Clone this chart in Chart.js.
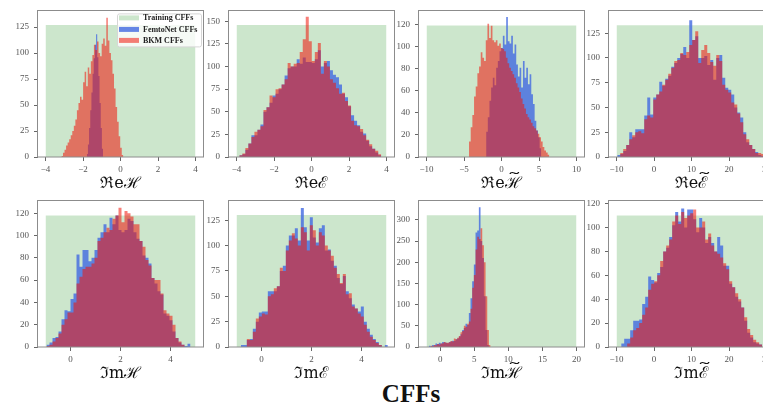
<!DOCTYPE html>
<html>
<head>
<meta charset="utf-8">
<script src="https://cdn.jsdelivr.net/npm/chart.js@4.4.0/dist/chart.umd.min.js"></script>
<style>
html, body { margin: 0; padding: 0; background: #fff; }
#wrap { position: relative; width: 763px; height: 407px; overflow: hidden; background: #fff; }
#wrap canvas { position: absolute; }
#title { position: absolute; left: 0; width: 822px; top: 380px; line-height: 30px; text-align: center;
         font: bold 25px "Liberation Serif", serif; color: #111; }
</style>
</head>
<body>
<div id="wrap">
  <div id="title">CFFs</div>
</div>
<script>
const PANEL_LABELS = ['ℜeℋ', 'ℜeℰ', 'ℜeℋ̃', 'ℜeℰ̃', 'ℑmℋ', 'ℑmℰ', 'ℑmℋ̃', 'ℑmℰ̃'];
const LEGEND_LABELS = ['Training CFFs', 'FemtoNet CFFs', 'BKM CFFs'];

// histogram counts, one array per panel and model
const reH_femto = [3, 12, 28, 45, 62, 80, 95, 108, 118, 96, 78, 52, 28, 8];
const reH_bkm = [1, 4, 7, 11, 14, 17, 21, 25, 30, 36, 45, 52, 58, 55, 72, 82, 68, 86, 80, 92,
    98, 108, 103, 111, 100, 97, 109, 114, 107, 134, 112, 100, 93, 80, 66, 48, 34, 20, 9, 2];
const reE_femto = [2, 3, 8, 15, 24, 24, 30, 36, 50, 55, 60, 68, 70, 75, 80, 90, 98, 100, 100, 108,
    103, 110, 105, 105, 104, 108, 118, 100, 104, 106, 96, 91, 88, 80, 70, 66, 56, 46, 40, 35,
    28, 26, 18, 12, 9, 5, 2];
const reE_bkm = [2, 4, 10, 15, 22, 28, 30, 34, 52, 55, 68, 66, 75, 76, 80, 86, 104, 100, 103, 104,
    116, 130, 155, 128, 106, 116, 126, 92, 106, 100, 86, 82, 76, 70, 71, 62, 57, 40, 35, 34,
    31, 24, 19, 14, 9, 7, 3];
const reHt_femto = [23, 36, 51, 63, 72, 65, 81, 87, 96, 99, 110, 102, 127, 105, 103, 110, 94, 102, 84, 73,
    81, 63, 87, 72, 81, 66, 75, 57, 48, 33, 24, 18, 8];
const reHt_bkm = [14, 27, 38, 55, 64, 76, 82, 95, 90, 87, 106, 121, 108, 119, 106, 104, 106, 101, 103, 99,
    98, 96, 90, 85, 81, 78, 75, 72, 67, 63, 59, 53, 48, 44, 39, 36, 34, 31, 28, 26,
    24, 21, 18, 14, 9, 6, 4, 2];
const reEt_femto = [2, 3, 6, 12, 25, 20, 28, 28, 28, 42, 60, 43, 60, 63, 76, 72, 79, 82, 91, 95,
    100, 104, 111, 100, 138, 118, 122, 100, 100, 102, 93, 98, 78, 100, 103, 80, 70, 68, 63, 50,
    45, 40, 25, 15, 12, 8, 5, 2, 1];
const reEt_bkm = [0, 4, 8, 12, 18, 22, 25, 26, 24, 38, 42, 40, 58, 63, 66, 73, 78, 84, 90, 97,
    98, 105, 103, 106, 113, 118, 127, 95, 108, 113, 105, 96, 92, 103, 97, 73, 68, 65, 55, 53,
    44, 35, 23, 18, 12, 8, 4, 4, 3];
const imH_femto = [2, 4, 8, 9, 14, 25, 33, 32, 43, 48, 83, 72, 87, 87, 77, 80, 87, 98, 103, 110,
    103, 116, 110, 118, 105, 103, 105, 115, 113, 103, 97, 95, 82, 80, 75, 62, 57, 50, 47, 30,
    28, 24, 14, 8, 4, 2, 1, 3];
const imH_bkm = [1, 2, 5, 8, 12, 20, 25, 31, 31, 40, 57, 63, 70, 72, 72, 75, 80, 95, 98, 103,
    107, 105, 115, 118, 125, 112, 122, 120, 117, 110, 110, 95, 90, 78, 73, 62, 60, 60, 48, 33,
    30, 28, 20, 8, 5, 2, 0, 0];
const imE_femto = [2, 2, 7, 8, 18, 25, 34, 35, 35, 55, 55, 55, 60, 75, 80, 100, 110, 110, 117, 105,
    137, 118, 105, 128, 108, 103, 117, 120, 95, 96, 85, 80, 68, 62, 70, 55, 48, 42, 38, 35,
    40, 25, 18, 12, 8, 5, 2, 0, 2];
const imE_bkm = [0, 0, 8, 7, 15, 28, 30, 33, 32, 50, 52, 58, 60, 78, 75, 95, 105, 112, 107, 100,
    118, 113, 95, 120, 115, 100, 113, 110, 100, 95, 90, 78, 72, 63, 72, 52, 53, 40, 38, 33,
    30, 22, 15, 10, 7, 4, 2, 0, 0];
const imHt_femto = [3, 2, 5, 4, 8, 7, 10, 8, 12, 11, 10, 9, 12, 13, 15, 14, 18, 20, 25, 30,
    40, 45, 55, 52, 80, 115, 155, 195, 270, 275, 330, 250, 210, 120, 40, 5];
const imHt_bkm = [3, 2, 5, 4, 7, 6, 8, 9, 12, 10, 10, 11, 14, 13, 20, 18, 22, 26, 35, 38,
    50, 48, 55, 60, 90, 140, 170, 230, 260, 255, 280, 240, 200, 120, 40, 5];
const imEt_femto = [3, 7, 7, 14, 22, 22, 23, 36, 42, 59, 56, 54, 62, 67, 80, 83, 92, 102, 113, 105,
    116, 100, 115, 115, 107, 96, 108, 100, 87, 92, 87, 80, 92, 85, 68, 68, 53, 50, 42, 38,
    33, 22, 12, 8, 4, 3, 2];
const imEt_bkm = [0, 0, 3, 8, 14, 16, 20, 27, 33, 48, 53, 55, 60, 72, 80, 85, 90, 105, 110, 103,
    113, 108, 110, 112, 115, 100, 100, 105, 90, 95, 85, 80, 78, 75, 70, 65, 55, 50, 45, 40,
    33, 25, 15, 10, 6, 4, 2];

const FEMTO = [reH_femto, reE_femto, reHt_femto, reEt_femto, imH_femto, imE_femto, imHt_femto, imEt_femto];
const BKM = [reH_bkm, reE_bkm, reHt_bkm, reEt_bkm, imH_bkm, imE_bkm, imHt_bkm, imEt_bkm];

// bin edges [first, last] of each histogram
const FEMTO_RANGES = [[-1.8, -0.93], [-3.85, 3.72], [-2.05, 5.31], [-9.8, 29.4],
    [-0.96, 4.8], [-0.827, 5.053], [-1.67, 7.15], [-8.75, 28.85]];
const BKM_RANGES = [[-3.15, 0.15], [-3.85, 3.72], [-4.33, 6.38], [-9.8, 29.4],
    [-0.96, 4.8], [-0.827, 5.053], [-1.42, 7.40], [-8.75, 28.85]];
const TRAIN_RANGES = [[-4, 4], [-4, 4], [-10, 10], [-10, 30], [-1, 5], [-1, 5], [-2, 20], [-10, 30]];
const TRAIN_HEIGHTS = [127, 146, 119.4, 133, 118, 130, 311, 110];

const X_LIMITS = [[-4.4, 4.4], [-4.4, 4.4], [-11, 11], [-12, 32], [-1.3, 5.3], [-1.3, 5.3], [-3.1, 21.1], [-12, 32]];
const Y_MAX = [141, 162, 133, 148, 131.5, 144.5, 346, 122.7];
const X_TICKS = [[-4, -2, 0, 2, 4], [-4, -2, 0, 2, 4], [-10, -5, 0, 5, 10], [-10, 0, 10, 20, 30],
    [0, 2, 4], [0, 2, 4], [0, 5, 10, 15, 20], [-10, 0, 10, 20, 30]];
const Y_TICKS = [[0, 25, 50, 75, 100, 125], [0, 25, 50, 75, 100, 125, 150], [0, 20, 40, 60, 80, 100, 120],
    [0, 25, 50, 75, 100, 125], [0, 20, 40, 60, 80, 100, 120], [0, 25, 50, 75, 100, 125],
    [0, 50, 100, 150, 200, 250, 300], [0, 20, 40, 60, 80, 100, 120]];

const COLOR_TRAIN = 'rgba(0, 128, 0, 0.2)';
const COLOR_FEMTO = 'rgba(65, 105, 225, 0.8)';
const COLOR_BKM = 'rgba(240, 20, 10, 0.55)';

// frame positions (chart area) of each panel on the page
const FRAME_LEFT = [38, 229, 419, 609];
const FRAME_TOP = [8, 198];
const PAD_LEFT = 36, PAD_TOP = 8, PAD_RIGHT = 8, PAD_BOTTOM = 36;
const FRAME_W = 165, FRAME_H = 149;
const LABEL_FONT = { family: '"DejaVu Serif"', size: 16, lineHeight: 1.1 };

function histPoints(range, counts) {
    const w = (range[1] - range[0]) / counts.length;
    const pts = counts.map((c, i) => ({ x: range[0] + i * w, y: c }));
    pts.push({ x: range[1], y: counts[counts.length - 1] });
    pts.push({ x: range[1], y: 0 });
    return pts;
}

function fmtTick(v) {
    return v < 0 ? '−' + Math.abs(v) : String(v);
}

const framePlugin = {
    id: 'frame',
    afterDraw(chart) {
        const a = chart.chartArea;
        const ctx = chart.ctx;
        ctx.save();
        ctx.strokeStyle = '#8c8c8c';
        ctx.lineWidth = 1;
        ctx.strokeRect(Math.round(a.left) - 0.5, Math.round(a.top) + 0.5,
            Math.round(a.right - a.left) + 1, Math.round(a.bottom - a.top) - 0.5);
        ctx.restore();
    }
};

// wide tilde over the last letter of the axis label
const tildePlugin = {
    id: 'tilde',
    afterDraw(chart, args, opts) {
        if (!opts.on) return;
        const xs = chart.scales.x;
        const ctx = chart.ctx;
        const base = opts.text;
        ctx.save();
        ctx.font = LABEL_FONT.size + 'px ' + LABEL_FONT.family;
        const full = ctx.measureText(base).width;
        const last = ctx.measureText(base.slice(-1)).width;
        const cx = (xs.left + xs.right) / 2 + full / 2 - last / 2 + 1;
        const cy = xs.bottom - LABEL_FONT.size * LABEL_FONT.lineHeight / 2 - 9;
        ctx.translate(cx, cy);
        ctx.scale(1.9, 1);
        ctx.fillStyle = '#111';
        ctx.textAlign = 'center';
        ctx.textBaseline = 'middle';
        ctx.fillText('˜', 0, 5.5);
        ctx.restore();
    }
};

const legendPlugin = {
    id: 'insideLegend',
    afterDraw(chart) {
        const a = chart.chartArea;
        const ctx = chart.ctx;
        const bx = a.right - 86, by = a.top + 3, bw = 84, bh = 33;
        ctx.save();
        ctx.fillStyle = 'rgba(255,255,255,0.8)';
        ctx.strokeStyle = '#d6d6d6';
        ctx.lineWidth = 1;
        ctx.beginPath();
        ctx.roundRect(bx + 0.5, by + 0.5, bw, bh, 2);
        ctx.fill();
        ctx.stroke();
        const colors = [COLOR_TRAIN, COLOR_FEMTO, COLOR_BKM];
        const rows = [by + 4.5, by + 16, by + 27];
        ctx.font = 'bold 8px "Liberation Serif"';
        ctx.textBaseline = 'middle';
        LEGEND_LABELS.forEach((label, i) => {
            ctx.fillStyle = colors[i];
            ctx.fillRect(bx + 2, rows[i] - 2.5, 20, 5);
            ctx.fillStyle = '#222';
            ctx.fillText(label, bx + 26, rows[i] + 0.5);
        });
        ctx.restore();
    }
};

const wrap = document.getElementById('wrap');

for (let i = 0; i < 8; i++) {
    const canvas = document.createElement('canvas');
    const w = PAD_LEFT + FRAME_W + PAD_RIGHT;
    const h = PAD_TOP + FRAME_H + PAD_BOTTOM;
    canvas.width = w;
    canvas.height = h;
    canvas.style.width = w + 'px';
    canvas.style.height = h + 'px';
    canvas.style.left = (FRAME_LEFT[i % 4] - PAD_LEFT) + 'px';
    canvas.style.top = (FRAME_TOP[Math.floor(i / 4)] - PAD_TOP) + 'px';
    wrap.appendChild(canvas);

    const hasTilde = PANEL_LABELS[i].includes('\u0303');
    const label = PANEL_LABELS[i].replace('\u0303', '');
    const tickFont = { family: '"Liberation Serif"', size: 9 };
    const grid = { display: true, drawOnChartArea: false, drawTicks: true, tickLength: 4, tickColor: '#666' };

    const plugins = [framePlugin, tildePlugin];
    if (i === 0) plugins.push(legendPlugin);

    new Chart(canvas, {
        type: 'line',
        data: {
            datasets: [
                {
                    data: histPoints(BKM_RANGES[i], BKM[i]),
                    backgroundColor: COLOR_BKM, borderColor: 'transparent', borderWidth: 0,
                    fill: 'origin', stepped: true, pointRadius: 0, order: 1
                },
                {
                    data: histPoints(FEMTO_RANGES[i], FEMTO[i]),
                    backgroundColor: COLOR_FEMTO, borderColor: 'transparent', borderWidth: 0,
                    fill: 'origin', stepped: true, pointRadius: 0, order: 2
                },
                {
                    data: histPoints(TRAIN_RANGES[i], [TRAIN_HEIGHTS[i]]),
                    backgroundColor: COLOR_TRAIN, borderColor: 'transparent', borderWidth: 0,
                    fill: 'origin', stepped: true, pointRadius: 0, order: 3
                }
            ]
        },
        options: {
            responsive: false,
            animation: false,
            devicePixelRatio: 1,
            layout: { padding: { left: 0, top: PAD_TOP, right: PAD_RIGHT, bottom: 0 } },
            plugins: {
                legend: { display: false },
                tooltip: { enabled: false },
                tilde: { on: hasTilde, text: label }
            },
            scales: {
                x: {
                    type: 'linear',
                    min: X_LIMITS[i][0],
                    max: X_LIMITS[i][1],
                    afterFit: (s) => { s.height = PAD_BOTTOM; },
                    afterBuildTicks: (s) => { s.ticks = X_TICKS[i].map(v => ({ value: v })); },
                    grid: grid,
                    border: { display: false },
                    ticks: { font: tickFont, color: '#555', padding: 3, maxRotation: 0, autoSkip: false, callback: fmtTick },
                    title: { display: true, text: label, color: '#111', padding: 0, font: LABEL_FONT }
                },
                y: {
                    min: 0,
                    max: Y_MAX[i],
                    afterFit: (s) => { s.width = PAD_LEFT; },
                    afterBuildTicks: (s) => { s.ticks = Y_TICKS[i].map(v => ({ value: v })); },
                    grid: grid,
                    border: { display: false },
                    ticks: { font: tickFont, color: '#555', padding: 5, autoSkip: false, callback: fmtTick }
                }
            }
        },
        plugins: plugins
    });
}
</script>
</body>
</html>
